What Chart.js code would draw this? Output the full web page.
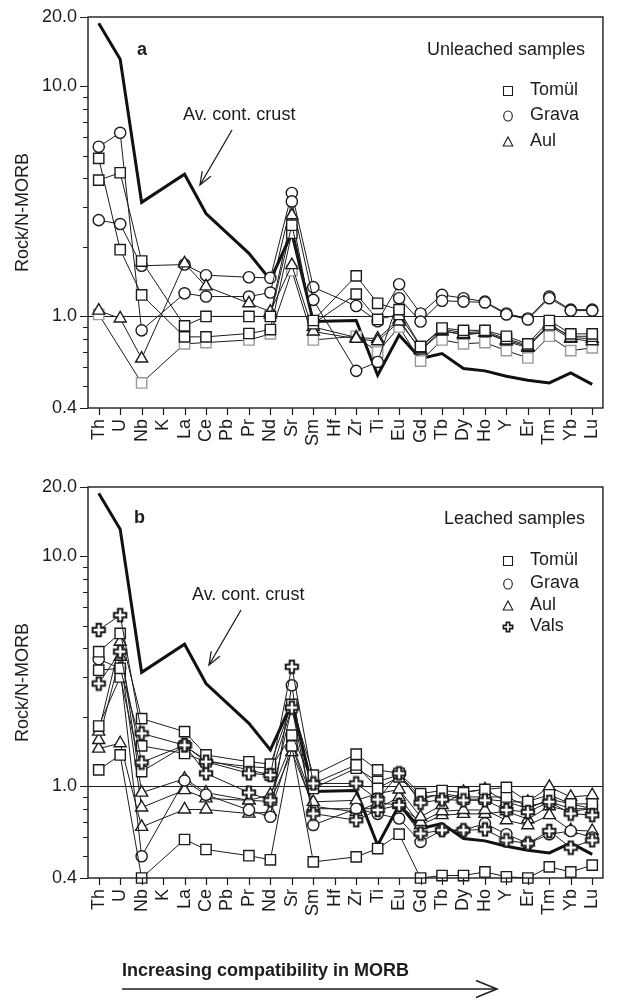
<!DOCTYPE html>
<html>
<head>
<meta charset="utf-8">
<script src="https://cdn.jsdelivr.net/npm/chart.js@4.4.0/dist/chart.umd.min.js"></script>
<style>
  html, body { margin: 0; padding: 0; background: #fff; }
  #wrap { position: relative; width: 618px; height: 1001px; }
  canvas { position: absolute; left: 0; }
</style>
</head>
<body>
<div id="wrap">
  <canvas id="chartA" width="618" height="470" style="top:0px"></canvas>
  <canvas id="chartB" width="618" height="531" style="top:470px"></canvas>
</div>
<script>
// element order on the x axis (K, Pb, Hf have no data)
const elements = ['Th','U','Nb','K','La','Ce','Pb','Pr','Nd','Sr','Sm','Hf','Zr','Ti','Eu','Gd','Tb','Dy','Ho','Y','Er','Tm','Yb','Lu'];
const yTicks = [0.4,0.5,0.6,0.7,0.8,0.9,1,2,3,4,5,6,7,8,9,10,20];
const yTickLabels = {0.4:'0.4', 1:'1.0', 10:'10.0', 20:'20.0'};

// average continental crust
const crust = [18.8,13.1,3.13,null,4.15,2.80,null,1.88,1.44,2.30,0.95,null,0.96,0.555,0.83,0.656,0.69,0.594,0.58,0.55,0.528,0.514,0.568,0.507];

// (a) unleached samples
const aTomul1 = [4.86,1.95,1.24,null,0.815,0.815,null,0.843,0.877,2.30,0.93,null,1.25,0.97,1.02,0.74,0.88,0.85,0.86,0.80,0.75,0.92,0.82,0.82];
const aTomul2 = [3.91,4.21,1.74,null,0.91,1.0,null,1.0,1.0,2.49,0.96,null,1.50,1.14,1.07,0.74,0.89,0.87,0.87,0.82,0.76,0.96,0.84,0.84];
const aTomul3 = [1.02,null,0.514,null,0.76,0.77,null,0.79,0.84,1.58,0.79,null,0.82,0.70,0.90,0.64,0.79,0.76,0.77,0.71,0.66,0.82,0.71,0.73];
const aGrava1 = [5.46,6.28,0.87,null,1.26,1.22,null,1.22,1.27,3.16,1.18,null,0.58,0.634,1.20,0.95,1.17,1.16,1.15,1.02,0.97,1.20,1.06,1.06];
const aGrava2 = [2.62,2.52,1.66,null,1.68,1.51,null,1.48,1.47,3.44,1.34,null,1.11,0.953,1.38,1.03,1.24,1.20,1.16,1.03,0.98,1.22,1.07,1.07];
const aAul1 = [1.06,0.98,0.656,null,1.70,1.35,null,1.14,1.05,1.67,0.86,null,0.80,0.78,0.95,0.72,0.87,0.83,0.85,0.79,0.74,0.91,0.80,0.78];
const aAul2 = [null,null,null,null,null,null,null,null,1.02,2.75,0.90,null,0.81,0.80,0.97,0.71,0.86,0.84,0.85,0.78,0.73,0.93,0.81,0.80];

// (b) leached samples
const bTomul1 = [1.18,1.37,0.40,null,0.588,0.532,null,0.50,0.48,1.50,0.47,null,0.494,0.537,0.62,0.40,0.41,0.41,0.425,0.405,0.40,0.447,0.425,0.455];
const bTomul2 = [3.85,4.62,1.97,null,1.73,1.37,null,1.28,1.25,2.27,1.12,null,1.38,1.18,1.14,0.93,0.96,0.94,0.97,0.99,0.86,0.92,0.84,0.84];
const bTomul3 = [3.2,3.26,1.50,null,1.39,1.28,null,1.22,1.20,1.67,1.03,null,1.24,0.98,1.10,0.88,0.93,0.90,0.90,0.90,0.82,0.86,0.80,0.80];
const bTomul4 = [1.83,2.99,1.16,null,1.50,1.30,null,1.18,1.12,2.20,0.98,null,1.20,1.05,1.12,0.90,0.92,0.88,0.88,0.86,0.80,0.88,0.84,0.80];
const bGrava1 = [3.57,3.26,0.497,null,1.06,0.92,null,0.79,0.738,2.75,0.68,null,0.80,0.76,0.725,0.574,0.645,0.645,0.69,0.62,0.565,0.62,0.64,0.60];
const bAul1 = [1.73,4.25,0.94,null,1.08,0.94,null,0.87,0.92,1.54,0.857,null,0.87,0.93,0.97,0.738,0.83,0.946,0.97,0.857,0.857,0.995,0.90,0.916];
const bAul2 = [1.59,3.66,0.81,null,0.964,0.887,null,0.87,0.86,1.41,0.82,null,0.774,0.85,0.83,0.70,0.78,0.79,0.79,0.713,0.678,0.75,0.645,0.64];
const bAul3 = [1.46,1.54,0.667,null,0.794,0.794,null,0.762,0.774,1.51,0.80,null,0.80,0.80,0.90,0.68,0.75,0.76,0.76,0.78,0.72,0.82,0.78,0.80];
const bVals1 = [4.78,5.55,1.70,null,1.51,1.28,null,1.14,1.12,3.31,1.03,null,1.03,0.877,1.14,0.849,0.877,0.87,0.87,0.79,0.774,0.857,0.762,0.75];
const bVals2 = [2.80,3.85,1.27,null,1.51,1.14,null,0.94,0.87,2.20,0.762,null,0.713,0.79,0.83,0.624,0.645,0.645,0.65,0.583,0.565,0.64,0.542,0.583];

const FONT = '"Liberation Sans", Arial, sans-serif';
const INK = '#1c1c1c';

// hollow plus marker image (Vals) and small legend symbols
function plusImage(s, lw) {
  const c = document.createElement('canvas');
  c.width = 16; c.height = 16;
  const g = c.getContext('2d');
  const a = 2.2 * s, b = 6.2 * s;
  const pts = [[-a,-b],[a,-b],[a,-a],[b,-a],[b,a],[a,a],[a,b],[-a,b],[-a,a],[-b,a],[-b,-a],[-a,-a]];
  g.beginPath();
  pts.forEach((p, i) => i ? g.lineTo(8 + p[0], 8 + p[1]) : g.moveTo(8 + p[0], 8 + p[1]));
  g.closePath();
  g.fillStyle = '#fff'; g.strokeStyle = INK; g.lineWidth = lw;
  g.fill(); g.stroke();
  return c;
}
const plusMark = plusImage(1, 2);
const plusLegend = plusImage(0.75, 1.6);

const styles = {
  square: { pointStyle: 'rect', pointRadius: 7.3 },
  circle: { pointStyle: 'circle', pointRadius: 5.6 },
  triangle: { pointStyle: 'triangle', pointRadius: 7 },
  plus: { pointStyle: plusMark, pointRadius: 5 }
};

function sample(data, kind, edge) {
  const st = styles[kind];
  return {
    data, pointStyle: st.pointStyle, pointRadius: st.pointRadius, pointHoverRadius: st.pointRadius,
    pointBackgroundColor: '#fff', pointBorderColor: edge || INK, pointBorderWidth: 1.4,
    borderColor: INK, borderWidth: 1, spanGaps: true, tension: 0, fill: false, clip: false
  };
}
function crustSet() {
  return { data: crust, borderColor: '#111', borderWidth: 3, pointRadius: 0, spanGaps: true, tension: 0, fill: false, clip: false };
}

function arrow(ctx, x1, y1, x2, y2, head, half) {
  const ang = Math.atan2(y2 - y1, x2 - x1);
  ctx.beginPath(); ctx.moveTo(x1, y1); ctx.lineTo(x2, y2); ctx.stroke();
  const bx = x2 - head * Math.cos(ang), by = y2 - head * Math.sin(ang);
  const nx = -Math.sin(ang) * half, ny = Math.cos(ang) * half;
  ctx.beginPath(); ctx.moveTo(bx + nx, by + ny); ctx.lineTo(x2, y2); ctx.lineTo(bx - nx, by - ny); ctx.stroke();
}

function legendSymbol(ctx, kind, x, y) {
  ctx.save();
  ctx.strokeStyle = INK; ctx.fillStyle = '#fff'; ctx.lineWidth = 1.1;
  ctx.beginPath();
  if (kind === 'square') ctx.rect(x - 4.5, y - 4.5, 9, 9);
  else if (kind === 'circle') ctx.ellipse(x, y, 4.3, 5, 0, 0, Math.PI * 2);
  else if (kind === 'triangle') { ctx.moveTo(x, y - 5); ctx.lineTo(x + 4.8, y + 4); ctx.lineTo(x - 4.8, y + 4); ctx.closePath(); }
  if (kind === 'plus') ctx.drawImage(plusLegend, x - 8, y - 8);
  else { ctx.fill(); ctx.stroke(); }
  ctx.restore();
}

const decor = {
  id: 'decor',
  beforeDatasetsDraw(chart) {
    const {ctx, chartArea: a, scales: {y}} = chart;
    const py = Math.round(y.getPixelForValue(1)) + 0.5;
    ctx.save();
    ctx.strokeStyle = INK; ctx.lineWidth = 1.2;
    ctx.beginPath(); ctx.moveTo(a.left, py); ctx.lineTo(a.right, py); ctx.stroke();
    ctx.restore();
  },
  afterDraw(chart, args, o) {
    const {ctx, chartArea: a, scales: {x, y}} = chart;
    ctx.save();
    ctx.strokeStyle = INK; ctx.lineWidth = 1.4;
    ctx.strokeRect(a.left, a.top, a.right - a.left, a.bottom - a.top);
    ctx.lineWidth = 1.2;
    ctx.beginPath();
    yTicks.forEach(v => {
      const py = Math.round(y.getPixelForValue(v)) + 0.5;
      const len = yTickLabels[v] ? 8 : 5;
      ctx.moveTo(a.left - len, py); ctx.lineTo(a.left, py);
    });
    elements.forEach((e, i) => {
      const px = Math.round(x.getPixelForValue(i)) + 0.5;
      ctx.moveTo(px, a.bottom); ctx.lineTo(px, a.bottom + 7);
    });
    ctx.stroke();

    ctx.fillStyle = INK;
    ctx.textBaseline = 'middle';
    ctx.font = 'bold 18px ' + FONT;
    ctx.textAlign = 'left';
    ctx.fillText(o.letter, o.letterX, o.letterY);
    ctx.font = '18px ' + FONT;
    ctx.textAlign = 'right';
    ctx.fillText(o.heading, 585, o.headingY);
    ctx.textAlign = 'left';
    o.legend.forEach((it, i) => {
      const ly = o.legendY[i];
      legendSymbol(ctx, it.style, 508, ly + 1);
      ctx.fillText(it.name, 530, ly);
    });
    ctx.fillText('Av. cont. crust', o.noteX, o.noteY);
    ctx.lineWidth = 1.3;
    arrow(ctx, o.noteX + 49, o.noteY + 15, o.noteX + 17, o.noteY + 70, 13, 5);

    if (o.footer) {
      ctx.font = 'bold 18px ' + FONT;
      ctx.fillText('Increasing compatibility in MORB', 122, 501);
      ctx.lineWidth = 1.5;
      arrow(ctx, 122, 519, 497, 519, 21, 8.5);
    }
    ctx.restore();
  }
};

function makeOptions(pad, deco) {
  return {
    responsive: false,
    animation: false,
    devicePixelRatio: 1,
    layout: { padding: pad },
    plugins: { legend: { display: false }, tooltip: { enabled: false }, decor: deco },
    scales: {
      x: {
        type: 'category', offset: true,
        grid: { display: false, drawTicks: true, tickLength: 7 },
        border: { display: false },
        ticks: { color: INK, font: { family: FONT, size: 18 }, minRotation: 90, maxRotation: 90, padding: 4, autoSkip: false },
        afterFit: s => { s.height = 62; }
      },
      y: {
        type: 'logarithmic', min: 0.4, max: 20,
        grid: { display: false, drawTicks: true, tickLength: 8 },
        border: { display: false },
        afterBuildTicks: s => { s.ticks = yTicks.map(v => ({ value: v })); },
        ticks: { color: INK, font: { family: FONT, size: 18 }, padding: 3, autoSkip: false,
                 callback: v => yTickLabels[v] || '' },
        title: { display: true, text: 'Rock/N-MORB', color: INK, font: { family: FONT, size: 18 }, padding: { top: 12 } },
        afterFit: s => { s.width = 88; }
      }
    }
  };
}

new Chart(document.getElementById('chartA'), {
  type: 'line',
  data: {
    labels: elements,
    datasets: [
      sample(aTomul2, 'square'), sample(aTomul1, 'square'),
      sample(aAul1, 'triangle'), sample(aAul2, 'triangle'),
      sample(aGrava1, 'circle'), sample(aGrava2, 'circle'),
      sample(aTomul3, 'square', '#9a9a9a'),
      crustSet()
    ]
  },
  options: makeOptions({ top: 17, right: 6, left: 0, bottom: 0 }, {
    letter: 'a', letterX: 137, letterY: 50, heading: 'Unleached samples', headingY: 50,
    legend: [{ style: 'square', name: 'Tomül' }, { style: 'circle', name: 'Grava' }, { style: 'triangle', name: 'Aul' }],
    legendY: [90, 115, 141], noteX: 183, noteY: 115, footer: false
  }),
  plugins: [decor]
});

new Chart(document.getElementById('chartB'), {
  type: 'line',
  data: {
    labels: elements,
    datasets: [
      sample(bVals1, 'plus'), sample(bVals2, 'plus'),
      sample(bTomul2, 'square'), sample(bTomul3, 'square'), sample(bTomul4, 'square'), sample(bTomul1, 'square'),
      sample(bGrava1, 'circle'),
      sample(bAul1, 'triangle'), sample(bAul2, 'triangle'), sample(bAul3, 'triangle'),
      crustSet()
    ]
  },
  options: makeOptions({ top: 17, right: 6, left: 0, bottom: 61 }, {
    letter: 'b', letterX: 134, letterY: 48, heading: 'Leached samples', headingY: 49,
    legend: [{ style: 'square', name: 'Tomül' }, { style: 'circle', name: 'Grava' }, { style: 'triangle', name: 'Aul' }, { style: 'plus', name: 'Vals' }],
    legendY: [90, 113, 135, 156], noteX: 192, noteY: 125, footer: true
  }),
  plugins: [decor]
});
</script>
</body>
</html>
